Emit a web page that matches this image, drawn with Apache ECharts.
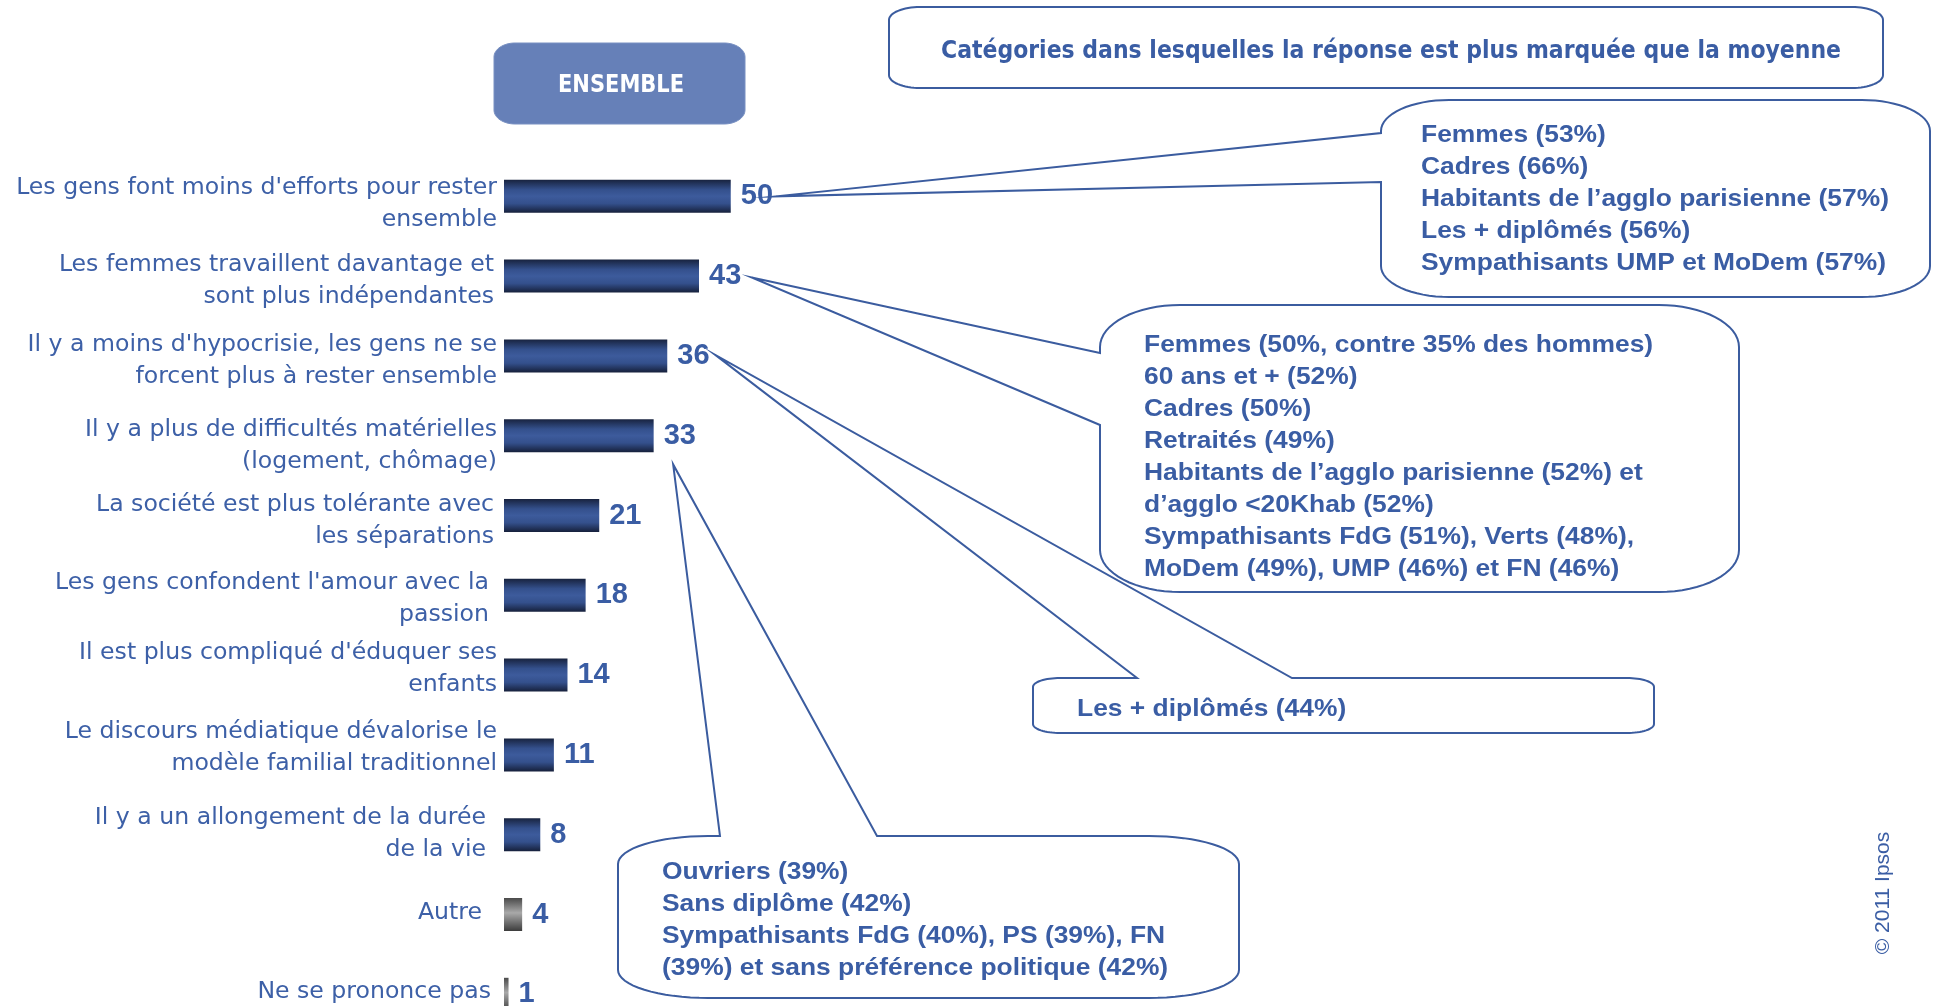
<!DOCTYPE html>
<html>
<head>
<meta charset="utf-8">
<script src="https://cdn.jsdelivr.net/npm/echarts@6/dist/echarts.min.js"></script>
<style>html,body{margin:0;padding:0;background:#fff}#c{width:1934px;height:1006px}</style>
</head>
<body>
<div id="c"></div>
<script>
// ---------- DATA ----------
const categories = [
  "Les gens font moins d'efforts pour rester\nensemble",
  "Les femmes travaillent davantage et\nsont plus indépendantes",
  "Il y a moins d'hypocrisie, les gens ne se\nforcent plus à rester ensemble",
  "Il y a plus de difficultés matérielles\n(logement, chômage)",
  "La société est plus tolérante avec\nles séparations",
  "Les gens confondent l'amour avec la\npassion",
  "Il est plus compliqué d'éduquer ses\nenfants",
  "Le discours médiatique dévalorise le\nmodèle familial traditionnel",
  "Il y a un allongement de la durée\nde la vie",
  "Autre",
  "Ne se prononce pas"
];
const values = [50, 43, 36, 33, 21, 18, 14, 11, 8, 4, 1];
const headerText = "ENSEMBLE";
const titleText = "Catégories dans lesquelles la réponse est plus marquée que la moyenne";
const calloutA = ["Femmes (53%)", "Cadres (66%)", "Habitants de l’agglo parisienne (57%)", "Les + diplômés (56%)", "Sympathisants UMP et MoDem (57%)"];
const calloutB = ["Femmes (50%, contre 35% des hommes)", "60 ans et + (52%)", "Cadres (50%)", "Retraités (49%)", "Habitants de l’agglo parisienne (52%) et", "d’agglo <20Khab (52%)", "Sympathisants FdG (51%), Verts (48%),", "MoDem (49%), UMP (46%) et FN (46%)"];
const calloutC = ["Les + diplômés (44%)"];
const calloutD = ["Ouvriers (39%)", "Sans diplôme (42%)", "Sympathisants FdG (40%), PS (39%), FN", "(39%) et sans préférence politique (42%)"];
const copyright = "© 2011 Ipsos";

// ---------- STYLE ----------
const BLUE_TEXT = '#3A5DA4';
const LABEL_BLUE = '#3D60A7';
const BORDER = '#3B5C9F';
// per-label fine shifts [down, left] in px
const labelShift = [[7.4,0],[5,3],[5,0],[10,0],[5,3],[3.7,8],[-6,0],[-7.4,0],[-1,11],[-1.2,15],[-2.5,6]];

const blueGrad = new echarts.graphic.LinearGradient(0, 0, 0, 1, [
  {offset: 0, color: '#18233f'}, {offset: 0.3, color: '#34508c'},
  {offset: 0.5, color: '#3d5b9c'}, {offset: 0.72, color: '#34508c'}, {offset: 1, color: '#16203b'}
]);
const greyGrad = new echarts.graphic.LinearGradient(0, 0, 0, 1, [
  {offset: 0, color: '#4a4a4a'}, {offset: 0.45, color: '#a9a9a9'}, {offset: 1, color: '#3c3c3c'}
]);

const chart = echarts.init(document.getElementById('c'), null, {renderer: 'canvas'});

const yData = categories.map((c, i) => ({
  value: c,
  textStyle: {padding: [0, labelShift[i][1], 0, 0]}
}));

const labelRich = {
  t: {fontFamily: 'DejaVu Sans', fontSize: 23.6, lineHeight: 32, color: LABEL_BLUE}
};
labelShift.forEach((s, i) => {
  labelRich['sp' + i] = {fontSize: 1, lineHeight: Math.max(0.1, 2 * Math.abs(s[0])), color: 'rgba(0,0,0,0)'};
});

chart.setOption({
  animation: false,
  backgroundColor: '#ffffff',
  grid: {left: 504, top: 156.4, width: 453.5, height: 877.8, containLabel: false, outerBoundsMode: 'none'},
  xAxis: {type: 'value', min: 0, max: 100, show: false},
  yAxis: {
    type: 'category', inverse: true, data: yData,
    axisLine: {show: false}, axisTick: {show: false}, splitLine: {show: false},
    axisLabel: {
      margin: 7, align: 'right', color: LABEL_BLUE,
      fontFamily: 'DejaVu Sans', fontSize: 23.6, lineHeight: 32,
      formatter: function (val, idx) {
        const lines = String(val).split('\n').map(l => '{t|' + l + '}');
        const d = labelShift[idx] ? labelShift[idx][0] : 0;
        const sp = '{sp' + idx + '|\u00a0}';
        if (d > 0) lines.unshift(sp);
        else if (d < 0) lines.push(sp);
        return lines.join('\n');
      },
      rich: labelRich
    }
  },
  series: [{
    type: 'bar', barWidth: 33,
    data: values.map((v, i) => ({value: v, itemStyle: {color: i >= 9 ? greyGrad : blueGrad}})),
    label: {
      show: true, position: 'right', distance: 10,
      fontFamily: 'Liberation Sans', fontWeight: 'bold', fontSize: 29, color: BLUE_TEXT
    }
  }]
});

// ---------- CALLOUTS ----------
function arc(P, cx, cy, rx, ry, t0, t1) {
  const n = 16;
  for (let i = 0; i <= n; i++) {
    const t = t0 + (t1 - t0) * i / n;
    P.push([cx + rx * Math.cos(t), cy + ry * Math.sin(t)]);
  }
}
function boxPoints(box, r, tail, tip) {
  const [x0, y0, x1, y1] = box, [rx, ry] = r, P = [];
  arc(P, x0 + rx, y0 + ry, rx, ry, Math.PI, 1.5 * Math.PI);
  if (tail && tail.side === 'top') P.push([tail.a, y0], tip, [tail.b, y0]);
  arc(P, x1 - rx, y0 + ry, rx, ry, -0.5 * Math.PI, 0);
  arc(P, x1 - rx, y1 - ry, rx, ry, 0, 0.5 * Math.PI);
  arc(P, x0 + rx, y1 - ry, rx, ry, 0.5 * Math.PI, Math.PI);
  if (tail && tail.side === 'left') P.push([x0, tail.b], tip, [x0, tail.a]);
  return P;
}

const calloutDefs = [
  {lines: calloutA, bar: 0, tipOff: [45.5, 0], box: [1381, 100, 1930, 297], r: [68, 31], tail: {side: 'left', a: 133, b: 182}, text: [1421, 133]},
  {lines: calloutB, bar: 1, tipOff: [52.7, 1.4], box: [1100, 305, 1739, 592], r: [80, 42], tail: {side: 'left', a: 353, b: 425}, text: [1144, 343]},
  {lines: calloutD, bar: 3, tipOff: [19.5, 28.7], box: [618, 836, 1239, 998], r: [90, 28], tail: {side: 'top', a: 720, b: 877}, text: [662, 870]},
  {lines: calloutC, bar: 2, tipOff: [48, -1], box: [1033, 678, 1654, 733], r: [27, 9], tail: {side: 'top', a: 1137, b: 1292}, text: [1077, 707]}
];

const graphics = [];
// title box
graphics.push({
  type: 'polygon', z: 10,
  shape: {points: boxPoints([889, 7, 1883, 88], [31, 13], null, null)},
  style: {fill: '#fff', stroke: BORDER, lineWidth: 2}
});
graphics.push({
  type: 'text', z: 11, x: 1391, y: 52, scaleY: 1.1,
  style: {text: titleText, fontFamily: 'DejaVu Sans', fontWeight: 'bold', fontSize: 22,
          fill: BLUE_TEXT, align: 'center', verticalAlign: 'middle'}
});
// header box
graphics.push({
  type: 'polygon', z: 10,
  shape: {points: boxPoints([494, 43, 745, 124], [21, 14], null, null)},
  style: {fill: '#6680B8', stroke: '#7890c2', lineWidth: 1}
});
graphics.push({
  type: 'text', z: 11, x: 621, y: 86, scaleY: 1.15,
  style: {text: headerText, fontFamily: 'DejaVu Sans', fontWeight: 'bold', fontSize: 21,
          fill: '#ffffff', align: 'center', verticalAlign: 'middle'}
});

calloutDefs.forEach((d, k) => {
  const p = chart.convertToPixel({xAxisIndex: 0, yAxisIndex: 0}, [values[d.bar], d.bar]);
  const tip = [p[0] + d.tipOff[0], p[1] + d.tipOff[1]];
  graphics.push({
    type: 'polygon', z: 20 + k * 2,
    shape: {points: boxPoints(d.box, d.r, d.tail, tip)},
    style: {fill: '#fff', stroke: BORDER, lineWidth: 2, lineJoin: 'miter', miterLimit: 40}
  });
  graphics.push({
    type: 'text', z: 21 + k * 2, x: d.text[0], y: d.text[1] - 13.5, scaleX: 1.1,
    style: {text: d.lines.join('\n'), fontFamily: 'Liberation Sans', fontWeight: 'bold', fontSize: 24,
            lineHeight: 32, fill: BLUE_TEXT, align: 'left', verticalAlign: 'top'}
  });
});

graphics.push({
  type: 'text', z: 30, x: 1883, y: 893, rotation: Math.PI / 2,
  style: {text: copyright, fontFamily: 'Liberation Sans', fontSize: 21, fill: BLUE_TEXT,
          align: 'center', verticalAlign: 'middle'}
});

chart.setOption({graphic: {elements: graphics}});
</script>
</body>
</html>
